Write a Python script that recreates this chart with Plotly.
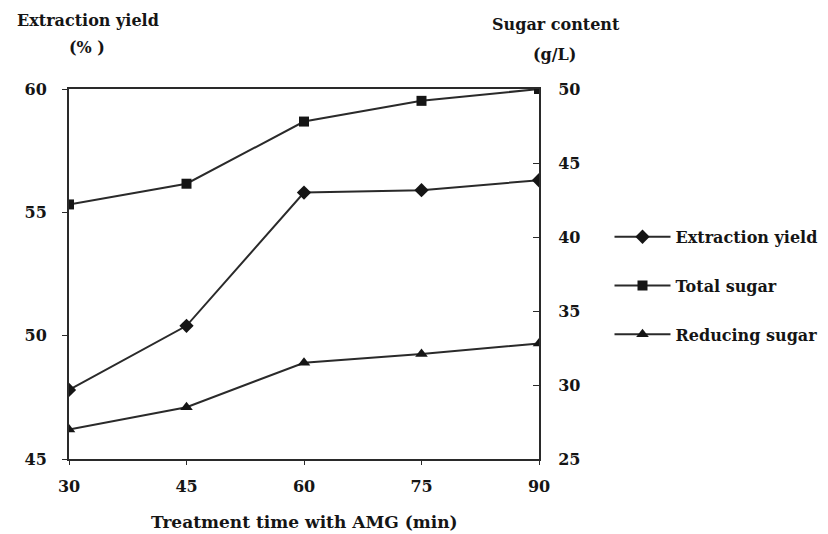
import plotly.graph_objects as go

time_min = [30, 45, 60, 75, 90]
extraction_yield = [47.8, 50.4, 55.8, 55.9, 56.3]
total_sugar = [42.2, 43.6, 47.8, 49.2, 50.0]
reducing_sugar = [27.0, 28.5, 31.5, 32.1, 32.8]

left_ticks = [45, 50, 55, 60]
right_ticks = [25, 30, 35, 40, 45, 50]
x_ticks = [30, 45, 60, 75, 90]

FONT = "DejaVu Serif"
INK = "#151515"
LINE = "#2a2a2a"

fig = go.Figure()
fig.add_trace(go.Scatter(
    x=time_min, y=extraction_yield, name="Extraction yield", mode="lines+markers",
    line=dict(color=LINE, width=2), marker=dict(symbol="diamond", size=11, color=INK),
    legendgroup="a", yaxis="y"))
fig.add_trace(go.Scatter(
    x=time_min, y=total_sugar, name="Total sugar", mode="lines+markers",
    line=dict(color=LINE, width=2), marker=dict(symbol="square", size=10, color=INK),
    legendgroup="b", yaxis="y2"))
fig.add_trace(go.Scatter(
    x=time_min, y=reducing_sugar, name="Reducing sugar", mode="lines+markers",
    line=dict(color=LINE, width=2), marker=dict(symbol="triangle-up", size=11, color=INK),
    legendgroup="c", yaxis="y2"))

tickfont = dict(family=FONT, size=16, color=INK)


def bold(vals):
    return ["<b>%s</b>" % v for v in vals]


fig.update_layout(
    width=828, height=534,
    margin=dict(l=69, r=289, t=89, b=75, pad=0, autoexpand=False),
    paper_bgcolor="white", plot_bgcolor="white",
    font=dict(family=FONT, color=INK),
    showlegend=True,
    legend=dict(x=1.15, y=0.468, xanchor="left", yanchor="middle",
                font=dict(family=FONT, size=16, color=INK, weight="bold"),
                tracegroupgap=25, traceorder="grouped", bgcolor="rgba(0,0,0,0)",
                itemwidth=56),
    xaxis=dict(range=[30, 90], tickvals=x_ticks, ticktext=bold(x_ticks),
               showgrid=False, zeroline=False, showline=True, linecolor=LINE, linewidth=2,
               mirror=True, ticks="outside", ticklen=4, tickcolor=LINE, tickwidth=1,
               tickfont=tickfont, ticklabelstandoff=8),
    yaxis=dict(range=[45, 60], tickvals=left_ticks, ticktext=bold(left_ticks),
               showgrid=False, zeroline=False,
               showline=True, linecolor=LINE, linewidth=2, ticks="outside", ticklen=5,
               tickcolor=LINE, tickwidth=1, tickfont=tickfont, ticklabelstandoff=12),
    yaxis2=dict(range=[25, 50], tickvals=right_ticks, ticktext=bold(right_ticks),
                overlaying="y", side="right",
                showgrid=False, zeroline=False, showline=True, linecolor=LINE, linewidth=2,
                ticks="inside", ticklen=6, tickcolor=LINE, tickwidth=1, tickfont=tickfont,
                ticklabelstandoff=14),
)

ann_font = dict(family=FONT, size=16, color=INK, weight="bold")
fig.add_annotation(text="Extraction yield", xref="paper", yref="paper", x=0.04, y=1.186,
                   showarrow=False, font=ann_font, xanchor="center", yanchor="middle")
fig.add_annotation(text="(% )", xref="paper", yref="paper", x=0.038, y=1.111,
                   showarrow=False, font=ann_font, xanchor="center", yanchor="middle")
fig.add_annotation(text="Sugar content", xref="paper", yref="paper", x=1.036, y=1.173,
                   showarrow=False, font=ann_font, xanchor="center", yanchor="middle")
fig.add_annotation(text="(g/L)", xref="paper", yref="paper", x=1.034, y=1.092,
                   showarrow=False, font=ann_font, xanchor="center", yanchor="middle")
fig.add_annotation(text="Treatment time with AMG (min)", xref="paper", yref="paper",
                   x=0.5, y=-0.17, showarrow=False,
                   font=dict(family=FONT, size=17, color=INK, weight="bold"),
                   xanchor="center", yanchor="middle")

fig.write_html("out.html", config={"displayModeBar": False},
               post_script="document.body.style.margin='0px';")
